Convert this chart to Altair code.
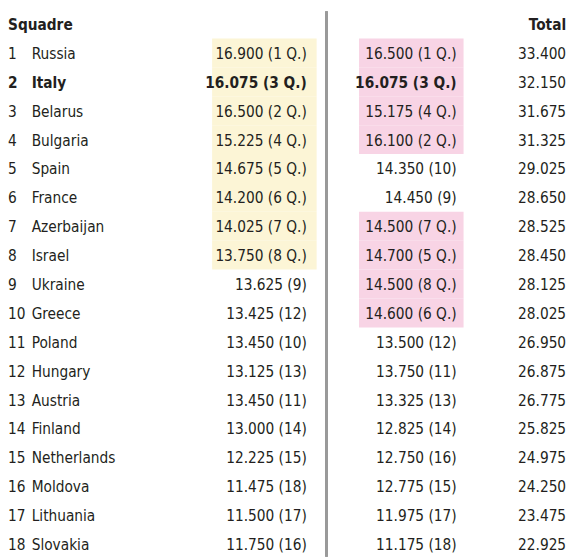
import altair as alt
import pandas as pd

countries = ["Russia", "Italy", "Belarus", "Bulgaria", "Spain", "France", "Azerbaijan", "Israel",
             "Ukraine", "Greece", "Poland", "Hungary", "Austria", "Finland", "Netherlands",
             "Moldova", "Lithuania", "Slovakia"]
score1 = [16.900, 16.075, 16.500, 15.225, 14.675, 14.200, 14.025, 13.750, 13.625, 13.425,
          13.450, 13.125, 13.450, 13.000, 12.225, 11.475, 11.500, 11.750]
rank1 = [1, 3, 2, 4, 5, 6, 7, 8, 9, 12, 10, 13, 11, 14, 15, 18, 17, 16]
score2 = [16.500, 16.075, 15.175, 16.100, 14.350, 14.450, 14.500, 14.700, 14.500, 14.600,
          13.500, 13.750, 13.325, 12.825, 12.750, 12.775, 11.975, 11.175]
rank2 = [1, 3, 4, 2, 10, 9, 7, 5, 8, 6, 12, 11, 13, 14, 16, 15, 17, 18]
totals = [33.400, 32.150, 31.675, 31.325, 29.025, 28.650, 28.525, 28.450, 28.125, 28.025,
          26.950, 26.875, 26.775, 25.825, 24.975, 24.250, 23.475, 22.925]
highlight_team = "Italy"
n_qualify = 8

def lab(v, r):
    return f"{v:.3f} ({r} Q.)" if r <= n_qualify else f"{v:.3f} ({r})"

df = pd.DataFrame({
    "row": list(range(1, len(countries) + 1)),
    "country": countries,
    "s1": [lab(v, r) for v, r in zip(score1, rank1)],
    "s2": [lab(v, r) for v, r in zip(score2, rank2)],
    "q1": [r <= n_qualify for r in rank1],
    "q2": [r <= n_qualify for r in rank2],
    "total": [f"{t:.3f}" for t in totals],
    "bold": [c == highlight_team for c in countries],
})
df["rank"] = df["row"].astype(str)

header = pd.DataFrame({"row": [0, 0], "text": ["Squadre", "Total"], "side": ["left", "right"]})

FONT = "DejaVu Sans Condensed, sans-serif"
FS = 15.5
COLOR = "#231f20"
yscale = alt.Scale(domain=[-0.4215, 18.418], reverse=True, nice=False, zero=False)
Y = alt.Y("row:Q", scale=yscale, axis=None)

base = alt.Chart(df)

def rect(flag, x0, x1, color):
    return base.transform_filter(f"datum.{flag}").transform_calculate(
        y0="datum.row - 0.5", y1="datum.row + 0.5"
    ).mark_rect(color=color).encode(
        y=alt.Y("y0:Q", scale=yscale, axis=None), y2="y1:Q",
        x=alt.value(x0), x2=alt.value(x1)
    )

def col(field, x, align, bold):
    flt = "datum.bold" if bold else "!datum.bold"
    return base.transform_filter(flt).mark_text(
        align=align, baseline="middle", font=FONT, fontSize=FS,
        fontWeight="bold" if bold else "normal", color=COLOR, dy=1
    ).encode(y=Y, x=alt.value(x), text=f"{field}:N")

layers = [
    rect("q1", 207, 313, "#fcf5d6"),
    rect("q2", 356, 462, "#f8d4e5"),
    alt.Chart(df).mark_rule(color="#9a9a9a", strokeWidth=2).encode(
        x=alt.value(323), y=alt.value(0), y2=alt.value(552)
    ),
]
for field, x, align, boldable in [("rank", 0, "left", True), ("country", 24, "left", True),
                                  ("s1", 303, "right", True), ("s2", 455, "right", True),
                                  ("total", 566, "right", False)]:
    if boldable:
        layers.append(col(field, x, align, False))
        layers.append(col(field, x, align, True))
    else:
        layers.append(base.mark_text(align=align, baseline="middle", font=FONT, fontSize=FS,
                                     color=COLOR, dy=1).encode(y=Y, x=alt.value(x), text=f"{field}:N"))

hdr = alt.Chart(header)
layers.append(hdr.transform_filter("datum.side == 'left'").mark_text(
    align="left", baseline="middle", font=FONT, fontSize=FS, fontWeight=900, color=COLOR, dy=1
).encode(y=Y, x=alt.value(0), text="text:N"))
layers.append(hdr.transform_filter("datum.side == 'right'").mark_text(
    align="right", baseline="middle", font=FONT, fontSize=FS, fontWeight=900, color=COLOR, dy=1
).encode(y=Y, x=alt.value(566), text="text:N"))

chart = alt.layer(*layers).properties(
    width=574, height=552, padding=0, background="white",
    autosize=alt.AutoSizeParams(type="none")
).configure_view(stroke=None, strokeWidth=0)

chart.save("out.html", embed_options={"renderer": "svg", "actions": False})
